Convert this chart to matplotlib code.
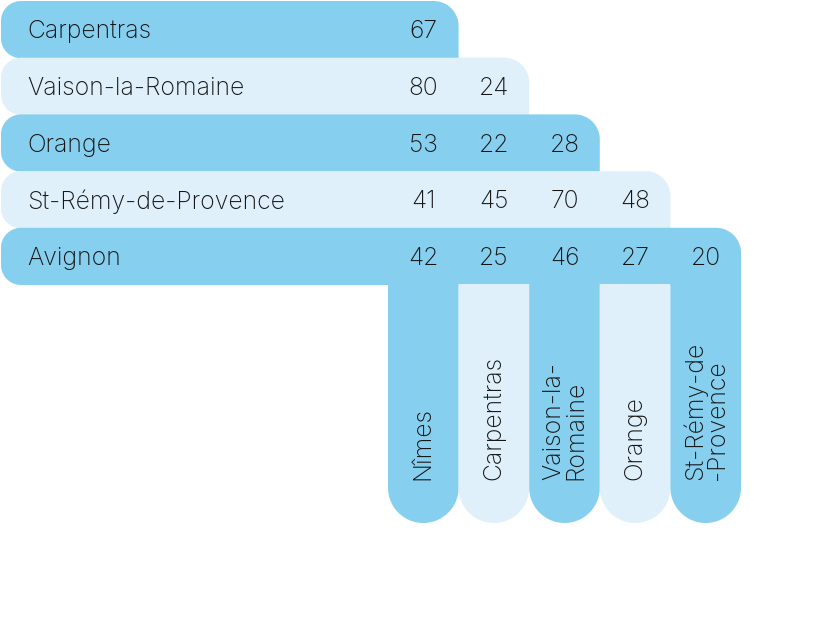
import numpy as np
import matplotlib.pyplot as plt
from matplotlib.path import Path
from matplotlib.patches import PathPatch

# towns down the side (rows) and across the bottom (columns)
row_towns = ['Carpentras', 'Vaison-la-Romaine', 'Orange', 'St-Rémy-de-Provence', 'Avignon']
col_towns = ['Nîmes', 'Carpentras', 'Vaison-la-\nRomaine', 'Orange', 'St-Rémy-de\n-Provence']

# distances, row i has i+1 values
dist_carpentras = [67]
dist_vaison = [80, 24]
dist_orange = [53, 22, 28]
dist_stremy = [41, 45, 70, 48]
dist_avignon = [42, 25, 46, 27, 20]
distances = [dist_carpentras, dist_vaison, dist_orange, dist_stremy, dist_avignon]

dark = '#87cfee'
light = '#dff0fb'
txt = '#151515'
font = 'Inter'
fs = 17.8

W, H = 815, 638
fig = plt.figure(figsize=(W / 100, H / 100), dpi=100)
ax = fig.add_axes([0, 0, 1, 1])
ax.set_xlim(0, W)
ax.set_ylim(H, 0)
ax.axis('off')

left = 1
top = 1
rh = 56.7
col0 = 388
cw = 70.6
col_bottom = 523


def rounded(x0, y0, x1, y1, r_tl=0, r_tr=0, r_br=0, r_bl=0):
    pts = []
    def arc(cx, cy, r, a0, a1):
        if r == 0:
            return [(cx, cy)]
        a = np.linspace(a0, a1, 30)
        return list(zip(cx + r * np.cos(a), cy + r * np.sin(a)))
    pts += arc(x0 + r_tl, y0 + r_tl, r_tl, np.pi, 1.5 * np.pi)
    pts += arc(x1 - r_tr, y0 + r_tr, r_tr, 1.5 * np.pi, 2 * np.pi)
    pts += arc(x1 - r_br, y1 - r_br, r_br, 0, 0.5 * np.pi)
    pts += arc(x0 + r_bl, y1 - r_bl, r_bl, 0.5 * np.pi, np.pi)
    pts.append(pts[0])
    return Path(pts, closed=True)


for i, town in enumerate(row_towns):
    y0 = top + i * rh
    x1 = col0 + (i + 1) * cw
    c = dark if i % 2 == 0 else light
    ax.add_patch(PathPatch(rounded(left, y0, x1, y0 + rh + 0.5, 20, 25, 0, 20),
                           facecolor=c, edgecolor='none'))
    ax.text(27, y0 + rh / 2, town, fontsize=fs, family=font, fontweight='light', color=txt,
            ha='left', va='center_baseline')
    for j, v in enumerate(distances[i]):
        ax.text(col0 + (j + 0.5) * cw, y0 + rh / 2, str(v), fontsize=fs, family=font,
                fontweight='light', color=txt, ha='center', va='center_baseline')

rows_end = top + len(row_towns) * rh
for j, town in enumerate(col_towns):
    x0 = col0 + j * cw
    c = dark if j % 2 == 0 else light
    ax.add_patch(PathPatch(rounded(x0, rows_end - 0.5, x0 + cw, col_bottom, 0, 0, cw / 2, cw / 2),
                           facecolor=c, edgecolor='none'))
    ax.text(x0 + cw / 2, 480, town, fontsize=fs, family=font, fontweight='light', color=txt,
            rotation=90, ha='center', va='bottom', multialignment='left', linespacing=0.95)

fig.savefig('out.png', dpi=100)
